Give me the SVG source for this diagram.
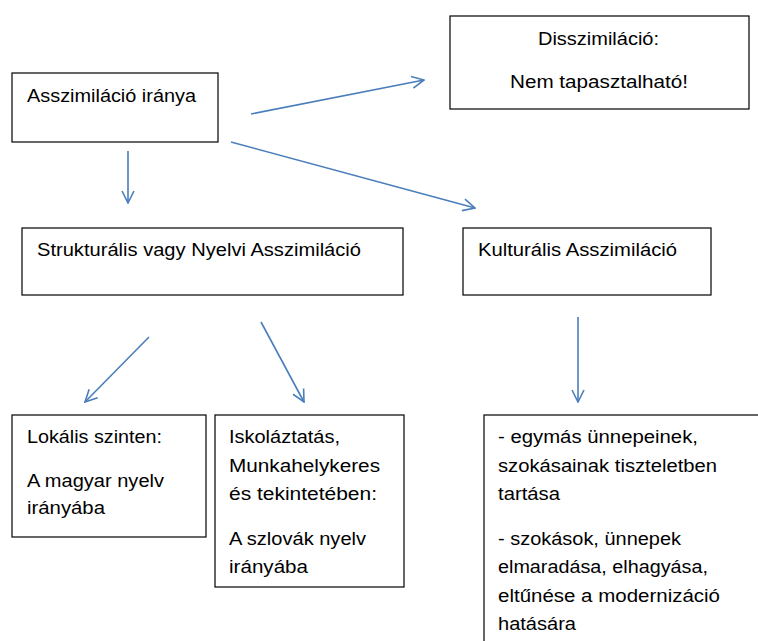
<svg xmlns="http://www.w3.org/2000/svg" width="758" height="641" viewBox="0 0 758 641">
<style>
.box{fill:#fff;stroke:#000;stroke-width:1.2}
.t{font-family:"Liberation Sans",Arial,sans-serif;font-size:17.5px;fill:#000}
.c{fill:none;stroke:#4a7ebb;stroke-width:1.6}
</style>
<defs>
<marker id="ah" viewBox="0 0 14 14" refX="13" refY="7" markerWidth="14" markerHeight="14" markerUnits="userSpaceOnUse" orient="auto">
<path d="M1,1 L13,7 L1,13" fill="none" stroke="#4a7ebb" stroke-width="1.6"/>
</marker>
</defs>
<rect width="758" height="641" fill="#fff"/>
<g id="n1"><rect class="box" x="12" y="73" width="206" height="69"/><text class="t" x="27" y="102" textLength="169" lengthAdjust="spacingAndGlyphs">Asszimiláció iránya</text></g>
<g id="n2"><rect class="box" x="450" y="16" width="299" height="93"/><text class="t" x="538" y="45" textLength="121" lengthAdjust="spacingAndGlyphs">Disszimiláció:</text><text class="t" x="510" y="88" textLength="178" lengthAdjust="spacingAndGlyphs">Nem tapasztalható!</text></g>
<g id="n3"><rect class="box" x="22" y="228" width="381" height="67"/><text class="t" x="37" y="256" textLength="324" lengthAdjust="spacingAndGlyphs">Strukturális vagy Nyelvi Asszimiláció</text></g>
<g id="n4"><rect class="box" x="463" y="228" width="248" height="67"/><text class="t" x="478" y="256" textLength="199" lengthAdjust="spacingAndGlyphs">Kulturális Asszimiláció</text></g>
<g id="n5"><rect class="box" x="12" y="415" width="194" height="122"/><text class="t" x="27" y="443" textLength="135" lengthAdjust="spacingAndGlyphs">Lokális szinten:</text><text class="t" x="27" y="487" textLength="137" lengthAdjust="spacingAndGlyphs">A magyar nyelv</text><text class="t" x="27" y="514" textLength="78" lengthAdjust="spacingAndGlyphs">irányába</text></g>
<g id="n6"><rect class="box" x="215" y="415" width="189" height="172"/><text class="t" x="229" y="443" textLength="111" lengthAdjust="spacingAndGlyphs">Iskoláztatás,</text><text class="t" x="229" y="472" textLength="151" lengthAdjust="spacingAndGlyphs">Munkahelykeres</text><text class="t" x="229" y="500" textLength="148" lengthAdjust="spacingAndGlyphs">és tekintetében:</text><text class="t" x="229" y="545" textLength="137" lengthAdjust="spacingAndGlyphs">A szlovák nyelv</text><text class="t" x="229" y="573" textLength="79" lengthAdjust="spacingAndGlyphs">irányába</text></g>
<g id="n7"><rect class="box" x="484" y="415" width="290" height="240"/><text class="t" x="498" y="443" textLength="200" lengthAdjust="spacingAndGlyphs">- egymás ünnepeinek,</text><text class="t" x="498" y="472" textLength="219" lengthAdjust="spacingAndGlyphs">szokásainak tiszteletben</text><text class="t" x="498" y="500" textLength="62" lengthAdjust="spacingAndGlyphs">tartása</text><text class="t" x="498" y="545" textLength="183" lengthAdjust="spacingAndGlyphs">- szokások, ünnepek</text><text class="t" x="498" y="573" textLength="210" lengthAdjust="spacingAndGlyphs">elmaradása, elhagyása,</text><text class="t" x="498" y="602" textLength="222" lengthAdjust="spacingAndGlyphs">eltűnése a modernizáció</text><text class="t" x="498" y="630" textLength="78" lengthAdjust="spacingAndGlyphs">hatására</text></g>
<g id="connectors">
<line class="c" x1="251" y1="114" x2="424" y2="80" marker-end="url(#ah)"/>
<line class="c" x1="128" y1="151" x2="128" y2="203" marker-end="url(#ah)"/>
<line class="c" x1="231" y1="142" x2="475" y2="208" marker-end="url(#ah)"/>
<line class="c" x1="149" y1="337" x2="85" y2="402" marker-end="url(#ah)"/>
<line class="c" x1="261" y1="322" x2="304" y2="402" marker-end="url(#ah)"/>
<line class="c" x1="578" y1="317" x2="578" y2="402" marker-end="url(#ah)"/>
</g>
</svg>
